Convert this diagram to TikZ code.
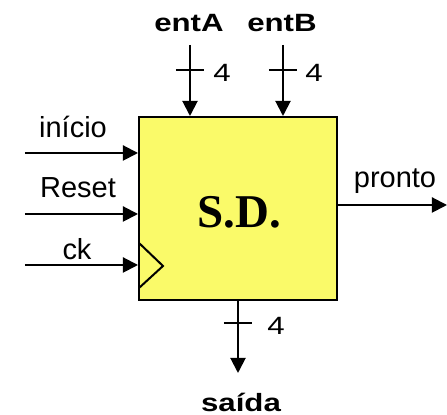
\documentclass[tikz,border=0pt]{standalone}
\usepackage{fontspec}
\setmainfont{Liberation Serif}
\setsansfont{Liberation Sans}
\usetikzlibrary{arrows.meta}
\definecolor{sdyellow}{RGB}{250,250,105}
\tikzset{
  sig/.style={line width=1pt,-{Triangle[length=7.5pt,width=7.5pt]}},
  tick/.style={line width=1pt},
  lbl/.style={font=\sffamily\fontsize{14.5}{16}\selectfont,anchor=base,inner sep=0pt},
  blbl/.style={font=\sffamily\bfseries\fontsize{12.5}{14}\selectfont,xscale=1.25,anchor=base,inner sep=0pt},
  numl/.style={font=\sffamily\fontsize{12.5}{14}\selectfont,xscale=1.25,anchor=base,inner sep=0pt}
}
\begin{document}
\begin{tikzpicture}[x=0.5pt,y=-0.5pt]
    \useasboundingbox (0,0) rectangle (447,415);
    % the block
    \node[draw,line width=1pt,fill=sdyellow,minimum width=99pt,minimum height=91.5pt,inner sep=0pt] (box) at (238,208.5) {};
    \node[font=\bfseries\fontsize{23.5}{26}\selectfont] (name) at (239,212) {S.D.};
    \draw[line width=1pt] (139,243) -- (163,266) -- (139,288);
    % inputs on the left
    \coordinate (ini) at (25,153);
    \coordinate (rst) at (25,214);
    \coordinate (clk) at (25,265);
    \draw[sig] (ini) -- (ini -| box.west);
    \draw[sig] (rst) -- (rst -| box.west);
    \draw[sig] (clk) -- (clk -| box.west);
    \node[lbl] (inil) at (73,138) {início};
    \node[lbl] (rstl) at (78,198) {Reset};
    \node[lbl] (clkl) at (77,260) {ck};
    % data inputs
    \coordinate (ea) at (190,45);
    \coordinate (eb) at (283,45);
    \draw[sig] (ea) -- (ea |- box.north);
    \draw[sig] (eb) -- (eb |- box.north);
    \draw[tick] (176,70) -- (204,70);
    \draw[tick] (269,70) -- (297,70);
    \node[blbl] (eal) at (189,32) {entA};
    \node[blbl] (ebl) at (282,32) {entB};
    \node[numl] (ean) at (222,82) {4};
    \node[numl] (ebn) at (314,82) {4};
    % outputs
    \coordinate (sai) at (238,373);
    \coordinate (rdy) at (447,205);
    \draw[sig] (box.south) -- (sai);
    \draw[sig] (rdy -| box.east) -- (rdy);
    \draw[tick] (224,323) -- (252,323);
    \node[numl] (sain) at (276,335) {4};
    \node[blbl] (sail) at (241,412) {saída};
    \node[lbl] (rdyl) at (395,188) {pronto};
\end{tikzpicture}
\end{document}
